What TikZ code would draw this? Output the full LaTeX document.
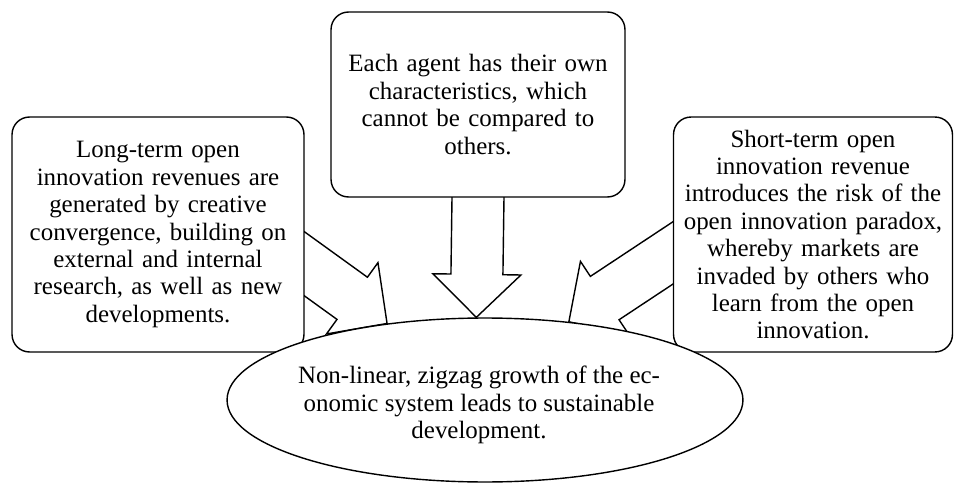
\documentclass[tikz,border=0pt]{standalone}
\usepackage{fontspec}
\setmainfont{Liberation Serif}
\usetikzlibrary{shapes,calc,backgrounds}
\tikzstyle{box}=[draw=black,line width=0.8pt,rounded corners=0.35cm,fill=white,align=center,inner sep=0pt,font=\fontsize{14.2}{15.6}\selectfont]
\tikzstyle{oval}=[ellipse,draw=black,line width=0.8pt,fill=white,inner sep=0pt]
\tikzstyle{ovaltext}=[align=center,inner sep=0pt,font=\fontsize{14.2}{15.6}\selectfont]
\tikzstyle{blk}=[draw=black,line width=0.8pt,fill=white,line join=miter]
% block arrow from #1 to #2
\newcommand{\blockarrow}[2]{%
\coordinate (hb) at ($(#2)!0.86cm!(#1)$);
\coordinate (tb) at ($(#1)!-0.6cm!(#2)$);
\draw[blk] ($(tb)!0.52cm!90:(#2)$) -- ($(hb)!0.52cm!90:(#2)$) -- ($(hb)!0.88cm!90:(#2)$) -- (#2) -- ($(hb)!0.88cm!-90:(#2)$) -- ($(hb)!0.52cm!-90:(#2)$) -- ($(tb)!0.52cm!-90:(#2)$) -- cycle;}

\begin{document}
\begin{tikzpicture}[x=0.02cm,y=-0.02cm]
\useasboundingbox (0,0) rectangle (954,483);
\node[box,minimum width=5.88cm,minimum height=3.7cm,text width=5.6cm] (cbox) at (478,104.5) {Each agent has their own\\characteristics, which\\cannot be compared to\\others.};
\node[box,minimum width=5.84cm,minimum height=4.7cm,text width=5.6cm] (lbox) at (158,234.5) {Long-term open\\innovation revenues are\\generated by creative\\convergence, building on\\external and internal\\research, as well as new\\developments.};
\node[box,minimum width=5.58cm,minimum height=4.7cm,text width=5.4cm] (rbox) at (813,234.5) {Short-term open\\innovation revenue\\introduces the risk of the\\open innovation paradox,\\whereby markets are\\invaded by others who\\learn from the open\\innovation.};
\node[oval,minimum width=10.32cm,minimum height=3.28cm] (ell) at (485,400) {};
\node[ovaltext] (elltext) at (479,405) {Non-linear, zigzag growth of the ec-\\onomic system leads to sustainable\\development.};
\begin{pgfonlayer}{background}
\coordinate (ltail) at ($(lbox.east)+(0,29.5)$);
\coordinate (rtail) at ($(rbox.west)+(0,18.5)$);
\coordinate (ltip) at (ell.142);
\coordinate (ctip) at (ell.96);
\coordinate (rtip) at (ell.43);
\blockarrow{cbox.south}{ctip}
\blockarrow{ltail}{ltip}
\blockarrow{rtail}{rtip}
\end{pgfonlayer}
\end{tikzpicture}
\end{document}
